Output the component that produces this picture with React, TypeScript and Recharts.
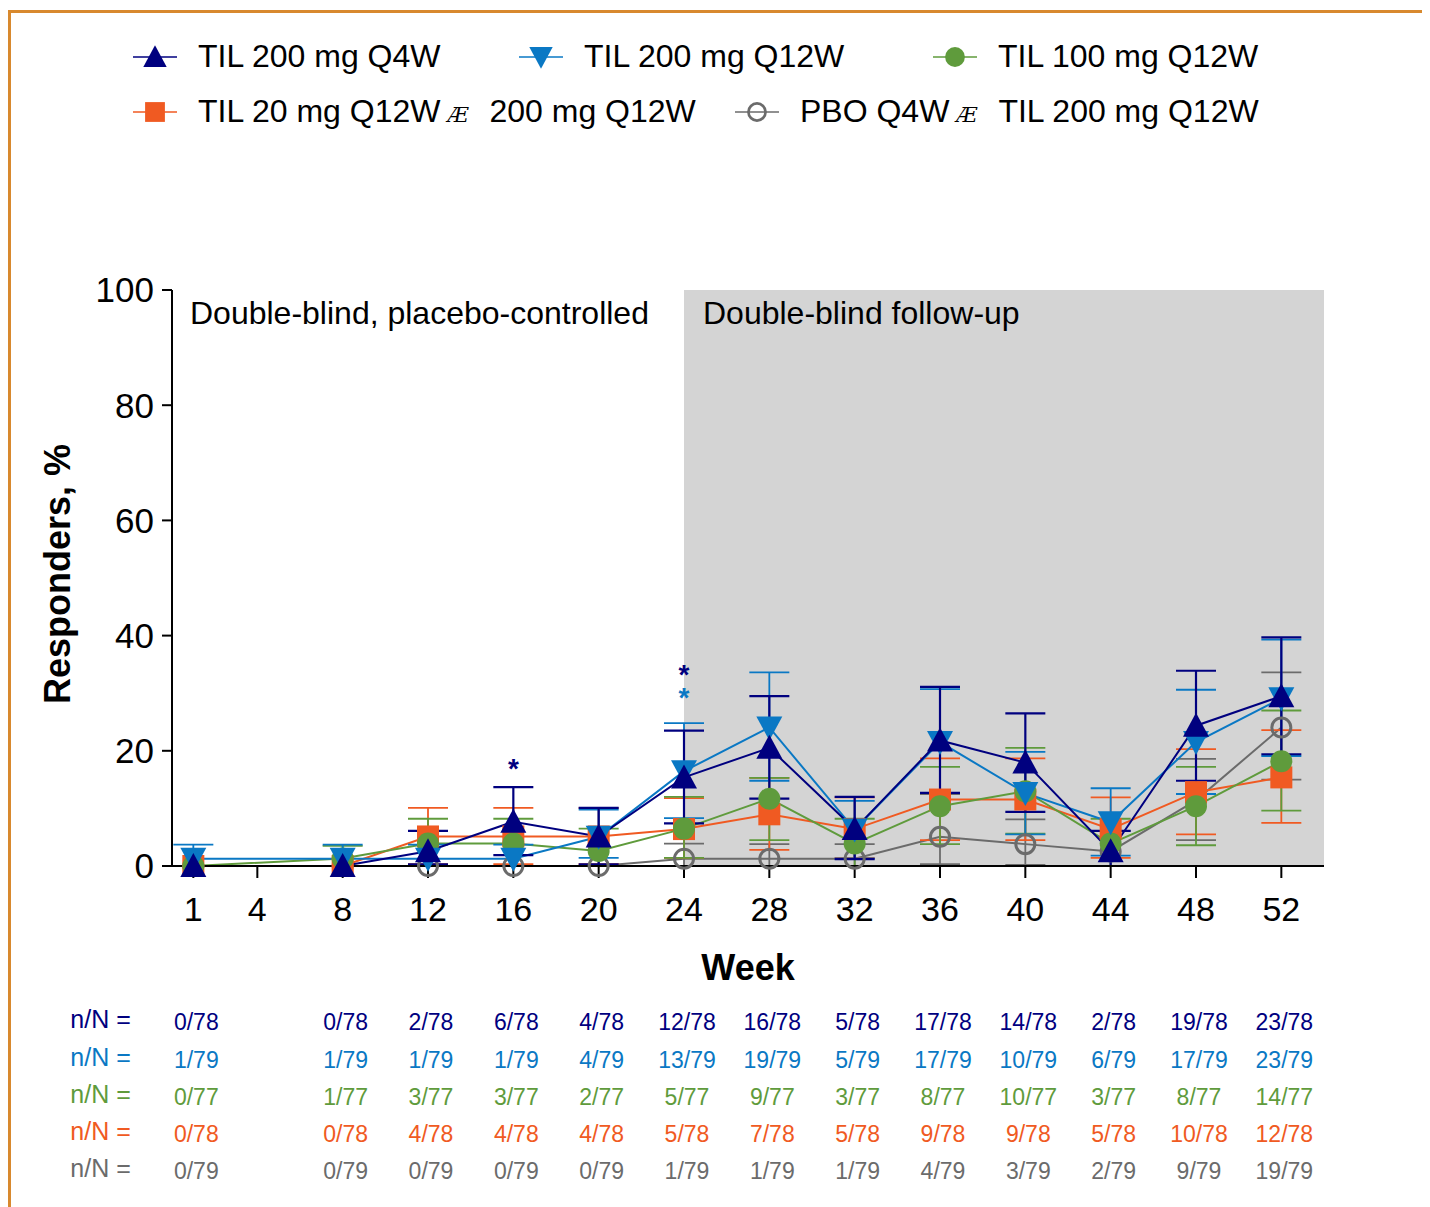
import React from "react";
import { ComposedChart, Line, XAxis, YAxis, ErrorBar, ReferenceArea } from "recharts";

const FONT = '"Liberation Sans", Arial, Helvetica, sans-serif';

const weeks = [1, 8, 12, 16, 20, 24, 28, 32, 36, 40, 44, 48, 52];
const weekTicks = [1, 4, 8, 12, 16, 20, 24, 28, 32, 36, 40, 44, 48, 52];
const pctTicks = [0, 20, 40, 60, 80, 100];

// responders (n) at each visit
const q4wN = [0, 0, 2, 6, 4, 12, 16, 5, 17, 14, 2, 19, 23];
const q12wN = [1, 1, 1, 1, 4, 13, 19, 5, 17, 10, 6, 17, 23];
const til100N = [0, 1, 3, 3, 2, 5, 9, 3, 8, 10, 3, 8, 14];
const til20N = [0, 0, 4, 4, 4, 5, 7, 5, 9, 9, 5, 10, 12];
const pboN = [0, 0, 0, 0, 0, 1, 1, 1, 4, 3, 2, 9, 19];

// error bar ends, %
const q4wLo = [0, 0, 0.3, 1.9, 0.3, 7.4, 11.7, 1.2, 12.7, 9.4, 0, 14.8, 19.4];
const q4wHi = [0, 0, 6.1, 13.7, 10.1, 23.5, 29.5, 12.0, 31.1, 26.5, 6.1, 33.9, 39.7];
const q12wLo = [0, 0, 0, 0, 1.4, 8.3, 14.8, 1.3, 12.7, 5.5, 1.8, 12.5, 19.1];
const q12wHi = [3.7, 3.7, 3.7, 3.7, 9.8, 24.8, 33.6, 11.3, 30.7, 19.8, 13.5, 30.6, 39.3];
const til100Lo = [0, 0, 0, 0, 0, 1.4, 4.5, 0, 3.8, 5.6, 0, 3.6, 9.6];
const til100Hi = [0, 3.5, 8.2, 8.2, 6.5, 12.0, 15.3, 8.2, 17.2, 20.5, 8.2, 17.2, 27.0];
const til20Lo = [0, 0, 0.3, 0.3, 0.3, 1.4, 2.8, 1.4, 4.5, 4.5, 1.4, 5.5, 7.5];
const til20Hi = [0, 0, 10.1, 10.1, 10.1, 11.8, 15.3, 11.9, 18.7, 18.7, 11.9, 20.3, 23.6];
const pboLo = [0, 0, 0, 0, 0, 0, 0, 0, 0.3, 0.2, 0, 4.5, 15.0];
const pboHi = [0, 0, 0, 0, 0, 3.9, 3.8, 3.8, 12.5, 8.1, 6.1, 18.6, 33.6];

// significance asterisks
const q4wStarWeeks = [16, 24];
const q4wStarPct = [17.9, 34.2];
const q12wStarWeeks = [24];
const q12wStarPct = [30.2];

const NAVY = "#00007f";
const BLUE = "#0a78c4";
const GREEN = "#5f9b3c";
const ORANGE = "#f05a22";
const GRAY = "#6b6b6b";

type Series = {
  key: string;
  n: number[];
  total: number;
  lo: number[];
  hi: number[];
  color: string;
  shape: "up" | "down" | "circle" | "square" | "open";
};

const q4w: Series = { key: "q4w", n: q4wN, total: 78, lo: q4wLo, hi: q4wHi, color: NAVY, shape: "up" };
const q12w: Series = { key: "q12w", n: q12wN, total: 79, lo: q12wLo, hi: q12wHi, color: BLUE, shape: "down" };
const til100: Series = { key: "til100", n: til100N, total: 77, lo: til100Lo, hi: til100Hi, color: GREEN, shape: "circle" };
const til20: Series = { key: "til20", n: til20N, total: 78, lo: til20Lo, hi: til20Hi, color: ORANGE, shape: "square" };
const pbo: Series = { key: "pbo", n: pboN, total: 79, lo: pboLo, hi: pboHi, color: GRAY, shape: "open" };

const tableOrder = [q4w, q12w, til100, til20, pbo];
const drawOrder = [pbo, til20, til100, q12w, q4w];

const rows = weeks.map((week, i) => {
  const row: any = { week };
  tableOrder.forEach((s) => {
    const pct = (s.n[i] / s.total) * 100;
    row[s.key] = pct;
    const down = Math.max(0, pct - s.lo[i]);
    const up = Math.max(0, s.hi[i] - pct);
    row[s.key + "Err"] = down === 0 && up === 0 ? null : [down, up];
  });
  const a = q4wStarWeeks.indexOf(week);
  row.q4wStar = a >= 0 ? q4wStarPct[a] : null;
  const b = q12wStarWeeks.indexOf(week);
  row.q12wStar = b >= 0 ? q12wStarPct[b] : null;
  return row;
});

function marker(shape: Series["shape"], color: string, cx: number, cy: number, k = 1) {
  switch (shape) {
    case "up":
      return <polygon points={`${cx},${cy - 13 * k} ${cx - 13 * k},${cy + 11 * k} ${cx + 13 * k},${cy + 11 * k}`} fill={color} />;
    case "down":
      return <polygon points={`${cx - 13 * k},${cy - 11 * k} ${cx + 13 * k},${cy - 11 * k} ${cx},${cy + 13 * k}`} fill={color} />;
    case "circle":
      return <circle cx={cx} cy={cy} r={11 * k} fill={color} />;
    case "square":
      return <rect x={cx - 11 * k} y={cy - 11 * k} width={22 * k} height={22 * k} fill={color} />;
    default:
      return <circle cx={cx} cy={cy} r={9.5 * k} fill="none" stroke={color} strokeWidth={3 * k} />;
  }
}

const renderDot = (s: Series) => (props: any) => {
  const { cx, cy, index, value } = props;
  if (value == null || cx == null || cy == null) return <g key={`${s.key}-${index}`} />;
  return <g key={`${s.key}-${index}`}>{marker(s.shape, s.color, cx, cy)}</g>;
};

const renderStar = (color: string, id: string) => (props: any) => {
  const { cx, cy, index, value } = props;
  if (value == null || cx == null || cy == null) return <g key={`${id}-${index}`} />;
  return (
    <text key={`${id}-${index}`} x={cx} y={cy + 15} textAnchor="middle" fontSize={28} fontWeight="bold" fill={color}>
      *
    </text>
  );
};

const rowOffsets = [125, 163, 200, 237, 274];

function WeekTick(props: any) {
  const { x, y, payload } = props;
  const i = weeks.indexOf(payload.value);
  return (
    <g>
      <text x={x} y={y} dy="0.71em" textAnchor="middle" fontSize={34} fill="#000">
        {payload.value}
      </text>
      {i >= 0 &&
        tableOrder.map((s, r) => (
          <text key={s.key} x={x + 3} y={y + rowOffsets[r]} dy="0.35em" textAnchor="middle" fontSize={23} fill={s.color}>
            {`${s.n[i]}/${s.total}`}
          </text>
        ))}
      {i === 0 &&
        tableOrder.map((s, r) => (
          <text key={"l" + s.key} x={x - 123} y={y + rowOffsets[r] - 3} dy="0.35em" textAnchor="start" fontSize={25} fill={s.color}>
            n/N =
          </text>
        ))}
    </g>
  );
}

function LegendIcon({ s }: { s: Series }) {
  return (
    <svg width={46} height={30} style={{ display: "block" }}>
      <line x1={1} y1={15} x2={45} y2={15} stroke={s.color} strokeWidth={1.6} />
      {marker(s.shape, s.color, 23, 15, 0.9)}
    </svg>
  );
}

const Arrow = () => (
  <span style={{ fontFamily: '"DejaVu Serif", serif', fontStyle: "italic", fontSize: 21, margin: "0 21px 0 7px" }}>Æ</span>
);

function LegendItem({ s, left, top, children }: { s: Series; left: number; top: number; children: React.ReactNode }) {
  return (
    <div style={{ position: "absolute", left, top, display: "flex", alignItems: "center", whiteSpace: "nowrap", fontSize: 32, color: "#000" }}>
      <LegendIcon s={s} />
      <span style={{ marginLeft: 20 }}>{children}</span>
    </div>
  );
}

export default function App() {
  return (
    <div style={{ position: "relative", width: 1422, height: 1199, fontFamily: FONT, overflow: "hidden" }}>
      <div
        style={{
          position: "absolute",
          left: 0,
          top: 2,
          width: 1430,
          height: 1210,
          borderLeft: "3px solid #d8892e",
          borderTop: "3px solid #d8892e",
          boxSizing: "border-box",
        }}
      />
      <div style={{ position: "absolute", left: 0, top: 0 }}>
        <ComposedChart width={1422} height={1199} data={rows} margin={{ top: 282, right: 106, bottom: 11, left: 0 }}>
          <ReferenceArea
            x1={24}
            x2={54}
            y1={0}
            y2={100}
            fill="#d4d4d4"
            fillOpacity={1}
            stroke="none"
            label={(p: any) => (
              <text x={p.viewBox.x + 19} y={p.viewBox.y + 34} fontSize={32} fill="#000">
                Double-blind follow-up
              </text>
            )}
          />
          <ReferenceArea
            x1={0}
            x2={24}
            y1={0}
            y2={100}
            fill="#fff"
            fillOpacity={0}
            stroke="none"
            label={(p: any) => (
              <text x={p.viewBox.x + 18} y={p.viewBox.y + 34} fontSize={32} fill="#000">
                Double-blind, placebo-controlled
              </text>
            )}
          />
          <XAxis
            dataKey="week"
            type="number"
            domain={[0, 54]}
            ticks={weekTicks}
            interval={0}
            height={330}
            tickSize={12}
            tickMargin={19}
            stroke="#000"
            strokeWidth={2}
            tickLine={{ stroke: "#000", strokeWidth: 2 }}
            tick={(p: any) => <WeekTick {...p} />}
            label={(p: any) => (
              <text x={p.viewBox.x + p.viewBox.width / 2} y={p.viewBox.y + 114} textAnchor="middle" fontSize={36} fontWeight="bold" fill="#000">
                Week
              </text>
            )}
          />
          <YAxis
            type="number"
            domain={[0, 100]}
            ticks={pctTicks}
            interval={0}
            width={164}
            tickSize={10}
            tickMargin={8}
            stroke="#000"
            strokeWidth={2}
            tickLine={{ stroke: "#000", strokeWidth: 2 }}
            tick={{ fontSize: 35, fill: "#000" }}
            label={(p: any) => {
              const cy = p.viewBox.y + p.viewBox.height / 2 - 4;
              return (
                <text x={62} y={cy} transform={`rotate(-90 62 ${cy})`} textAnchor="middle" fontSize={36} fontWeight="bold" fill="#000">
                  Responders, %
                </text>
              );
            }}
          />
          {drawOrder.map((s) => (
            <Line
              key={s.key}
              type="linear"
              dataKey={s.key}
              stroke={s.color}
              strokeWidth={2}
              dot={renderDot(s)}
              activeDot={false}
              legendType="none"
              isAnimationActive={false}
            >
              <ErrorBar dataKey={s.key + "Err"} direction="y" width={20} stroke={s.color} strokeWidth={s.key === "q4w" ? 2.2 : 1.8} />
            </Line>
          ))}
          <Line dataKey="q12wStar" stroke="none" dot={renderStar(BLUE, "s12")} activeDot={false} legendType="none" isAnimationActive={false} />
          <Line dataKey="q4wStar" stroke="none" dot={renderStar(NAVY, "s4")} activeDot={false} legendType="none" isAnimationActive={false} />
        </ComposedChart>
      </div>
      <LegendItem s={q4w} left={124} top={30}>TIL 200 mg Q4W</LegendItem>
      <LegendItem s={q12w} left={510} top={30}>TIL 200 mg Q12W</LegendItem>
      <LegendItem s={til100} left={924} top={30}>TIL 100 mg Q12W</LegendItem>
      <LegendItem s={til20} left={124} top={85}>
        TIL 20 mg Q12W<Arrow />200 mg Q12W
      </LegendItem>
      <LegendItem s={pbo} left={726} top={85}>
        PBO Q4W<Arrow />TIL 200 mg Q12W
      </LegendItem>
    </div>
  );
}
